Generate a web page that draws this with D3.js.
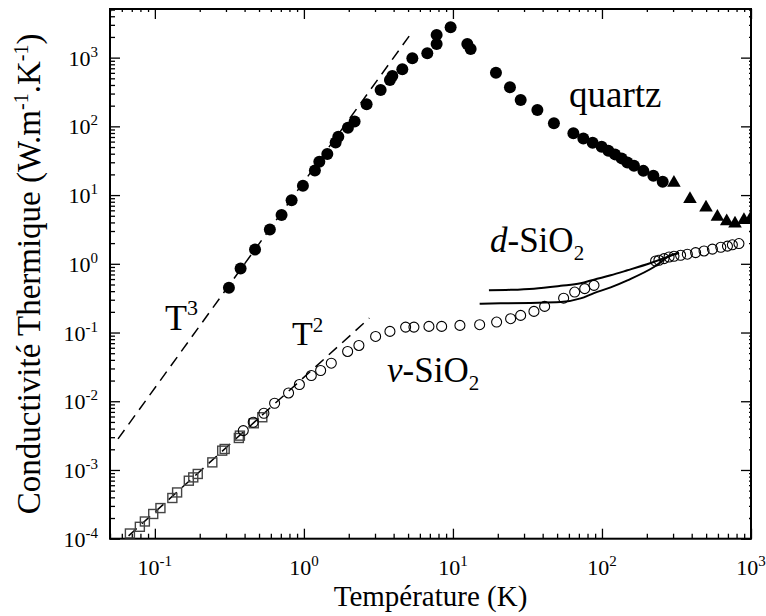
<!DOCTYPE html>
<html><head><meta charset="utf-8">
<script src="https://cdn.jsdelivr.net/npm/d3@7"></script>
<style>body{margin:0;background:#fff}svg{display:block}</style>
</head><body><svg id="c" width="766" height="616" font-family="'Liberation Serif', 'Times New Roman', Tinos, 'DejaVu Serif', serif"></svg>
<script>
// ---- data ----
const quartzT = [0.314,0.376,0.470,0.591,0.708,0.827,0.985,1.185,1.269,1.436,1.633,1.702,1.974,2.189,2.635,3.272,3.778,3.921,4.575,5.341,6.73,7.776,7.776,9.65,12.49,13.15,19.44,24.13,28.48,36.86,47.6,64.3,75.0,86.6,99.5,110.4,122.3,135.5,148.1,164,189.6,221.3,255.5];
const quartzK = [0.450,0.851,1.61,3.15,5.14,8.43,13.7,22.7,30.5,39.5,58.4,70.5,95.4,118,209,338,473,541,677,980,1159,1584,2143,2774,1584,1340,604,370,241,173,110.6,79.1,66.8,57.7,50.4,44.1,39.1,34.2,29.9,26.7,22.5,19.05,15.6];
const quartzTriT = [304,389.5,499,595,687,781,897,985];
const quartzTriK = [15.06,8.71,6.59,4.81,4.16,3.85,4.31,4.41];
const vSqT = [0.068,0.0793,0.0857,0.0975,0.109,0.131,0.141,0.169,0.181,0.194,0.243,0.283,0.294,0.366,0.372,0.461,0.526];
const vSqK = [1.19e-4,1.49e-4,1.78e-4,2.29e-4,2.79e-4,3.91e-4,4.71e-4,6.98e-4,7.8e-4,8.75e-4,1.29e-3,1.91e-3,2.02e-3,2.92e-3,3.16e-3,4.78e-3,5.85e-3];
const vCircT = [0.392,0.457,0.539,0.636,0.789,0.933,1.121,1.295,1.527,1.965,2.339,3.028,3.778,4.815,5.474,6.902,8.40,11.14,15.11,19.64,24.38,28.46,34.96,41.24,55.3,65.6,76.6,88.4,229,241,261,282,304,337,374,425,484,551,627,695,750,830];
const vCircK = [3.74e-3,4.94e-3,6.69e-3,9.35e-3,0.0132,0.0175,0.0237,0.0280,0.0358,0.0530,0.0648,0.0877,0.1038,0.120,0.120,0.1227,0.1227,0.127,0.130,0.142,0.159,0.1775,0.203,0.240,0.316,0.388,0.435,0.486,1.098,1.125,1.19,1.256,1.285,1.33,1.38,1.455,1.537,1.637,1.74,1.81,1.89,1.97];
const dUpT = [17.44,24.4,34.97,52.8,71.9,88.4,114.4,148.1,212.3,328.7];
const dUpK = [0.411,0.418,0.435,0.478,0.520,0.589,0.680,0.804,1.027,1.457];
const dLoT = [15.11,20.9,33.2,52.8,71.9,88.4,114.4,148.1,223.4,289,328.7];
const dLoK = [0.263,0.2656,0.270,0.2775,0.314,0.375,0.454,0.575,0.898,1.33,1.437];
const t3T = [0.0566,5.34], t3K = [2.83e-3,2380];
const t2T = [0.0666,2.75], t2K = [1.10e-4,0.162];
const xDecades = [0.1,1,10,100,1000], xExp = ["-1","0","1","2","3"];
const yDecades = [1e-4,1e-3,1e-2,1e-1,1,10,100,1000], yExp = ["-4","-3","-2","-1","0","1","2","3"];

// ---- layout ----
const FONT="'Liberation Serif', 'Times New Roman', Tinos, 'DejaVu Serif', serif";
const L=110,R=751,T=9,B=538.7;
const svg=d3.select("#c");
const x=d3.scaleLog().domain([0.05,1000]).range([L,R]);
const y=d3.scaleLog().domain([1e-4,5100]).range([B,T]);
function minors(dom){const out=[];const a=Math.floor(Math.log10(dom[0])),b=Math.ceil(Math.log10(dom[1]));for(let e=a;e<=b;e++)for(let m=2;m<=9;m++){const v=m*Math.pow(10,e);if(v>=dom[0]&&v<=dom[1])out.push(v);}return out;}
const xMin=minors(x.domain()), yMin=minors(y.domain());
function ax(g,gen,vals,size){g.call(gen.tickValues(vals).tickSize(size).tickFormat(""));g.select(".domain").remove();g.selectAll("line").attr("stroke","#000").attr("stroke-width",1.3);}
ax(svg.append("g").attr("transform",`translate(0,${B})`),d3.axisBottom(x),xDecades,-10);
ax(svg.append("g").attr("transform",`translate(0,${B})`),d3.axisBottom(x),xMin,-5);
ax(svg.append("g").attr("transform",`translate(0,${T})`),d3.axisTop(x),xDecades,-10);
ax(svg.append("g").attr("transform",`translate(0,${T})`),d3.axisTop(x),xMin,-3);
ax(svg.append("g").attr("transform",`translate(${L},0)`),d3.axisLeft(y),yDecades,-10);
ax(svg.append("g").attr("transform",`translate(${L},0)`),d3.axisLeft(y),yMin,-5);
ax(svg.append("g").attr("transform",`translate(${R},0)`),d3.axisRight(y),yDecades,-10);
ax(svg.append("g").attr("transform",`translate(${R},0)`),d3.axisRight(y),yMin,-2);
svg.append("rect").attr("x",L).attr("y",T).attr("width",R-L).attr("height",B-T).attr("fill","none").attr("stroke","#000").attr("stroke-width",2);

function txt(){return svg.append("text").attr("font-family",FONT).attr("fill","#000");}
xDecades.forEach((v,i)=>{const t=txt().attr("x",x(v)).attr("y",575).attr("text-anchor","middle").attr("font-size",22);
  t.append("tspan").text("10");t.append("tspan").attr("dy",-9).attr("font-size",15).text(xExp[i]);});
yDecades.forEach((v,i)=>{const t=txt().attr("x",98).attr("y",y(v)+8).attr("text-anchor","end").attr("font-size",22);
  t.append("tspan").text("10");t.append("tspan").attr("dy",-9).attr("font-size",15).text(yExp[i]);});

txt().attr("x",(L+R)/2).attr("y",606).attr("text-anchor","middle").attr("font-size",29).text("Température (K)");
const yt=txt().attr("transform",`translate(40,${(T+B)/2}) rotate(-90)`).attr("text-anchor","middle").attr("font-size",33);
yt.append("tspan").text("Conductivité Thermique (W.m");
yt.append("tspan").attr("dy",-12).attr("font-size",20).text("-1");
yt.append("tspan").attr("dy",12).text(".K");
yt.append("tspan").attr("dy",-12).attr("font-size",20).text("-1");
yt.append("tspan").attr("dy",12).text(")");

svg.append("clipPath").attr("id","clip").append("rect").attr("x",L).attr("y",T).attr("width",R-L).attr("height",B-T);
const g=svg.append("g").attr("clip-path","url(#clip)");
const zip=(a,b)=>a.map((v,i)=>[v,b[i]]);
const line=d3.line().x(d=>x(d[0])).y(d=>y(d[1])).curve(d3.curveMonotoneX);
const straight=d3.line().x(d=>x(d[0])).y(d=>y(d[1]));

g.append("path").datum(zip(t3T,t3K)).attr("d",straight).attr("fill","none").attr("stroke","#000").attr("stroke-width",1.5).attr("stroke-dasharray","11,7");
g.append("path").datum(zip(t2T,t2K)).attr("d",straight).attr("fill","none").attr("stroke","#000").attr("stroke-width",1.5).attr("stroke-dasharray","11,7");
[zip(dUpT,dUpK),zip(dLoT,dLoK)].forEach(d=>g.append("path").datum(d).attr("d",line).attr("fill","none").attr("stroke","#000").attr("stroke-width",2));

g.selectAll(".sq").data(zip(vSqT,vSqK)).join("rect").attr("x",d=>x(d[0])-4.5).attr("y",d=>y(d[1])-4.5).attr("width",9).attr("height",9).attr("fill","none").attr("stroke","#444").attr("stroke-width",1.4);
g.selectAll(".vc").data(zip(vCircT,vCircK)).join("circle").attr("cx",d=>x(d[0])).attr("cy",d=>y(d[1])).attr("r",5).attr("fill","none").attr("stroke","#000").attr("stroke-width",1.1);
g.selectAll(".qc").data(zip(quartzT,quartzK)).join("circle").attr("cx",d=>x(d[0])).attr("cy",d=>y(d[1])).attr("r",6).attr("fill","#000");
const tri=d3.symbol().type(d3.symbolTriangle).size(80);
g.selectAll(".qt").data(zip(quartzTriT,quartzTriK)).join("path").attr("transform",d=>`translate(${x(d[0])},${y(d[1])})`).attr("d",tri).attr("fill","#000");

txt().attr("x",569).attr("y",107).attr("font-size",37).text("quartz");
const a3=txt().attr("x",165).attr("y",330).attr("font-size",36);
a3.append("tspan").text("T");a3.append("tspan").attr("dy",-15).attr("font-size",22).text("3");
const a2=txt().attr("x",292).attr("y",345).attr("font-size",34);
a2.append("tspan").text("T");a2.append("tspan").attr("dy",-13).attr("font-size",21).text("2");
const av=txt().attr("x",387).attr("y",382).attr("font-size",35);
av.append("tspan").attr("font-style","italic").text("v");av.append("tspan").text("-SiO");av.append("tspan").attr("dy",8).attr("font-size",21).text("2");
const ad=txt().attr("x",490).attr("y",252).attr("font-size",35);
ad.append("tspan").attr("font-style","italic").text("d");ad.append("tspan").text("-SiO");ad.append("tspan").attr("dy",8).attr("font-size",21).text("2");
</script></body></html>
